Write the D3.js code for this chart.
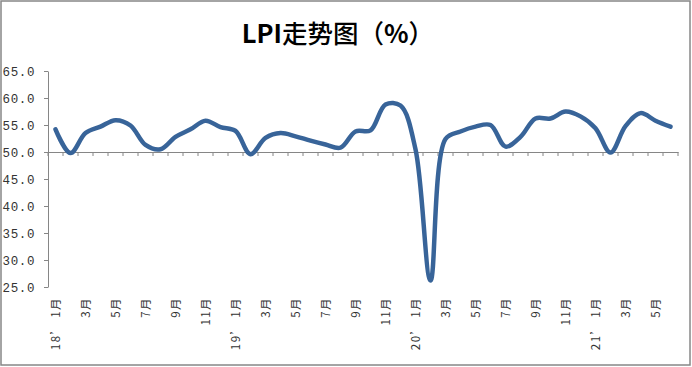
<!DOCTYPE html>
<html><head><meta charset="utf-8">
<script src="https://cdn.jsdelivr.net/npm/d3@7"></script>
<style>
html,body{margin:0;padding:0;background:#fff;}
svg{display:block;}
</style></head>
<body>
<svg id="chart" width="692" height="367"></svg>
<script>
const titleText = ["LPI", "走势图（", "%", "）"];
const years = ["18", "19", "20", "21"];
const monthsPerYear = [12, 12, 12, 6];
const values2018 = [54.2, 49.8, 53.5, 54.7, 55.9, 54.9, 51.3, 50.5, 52.8, 54.2, 55.8, 54.6];
const values2019 = [53.9, 49.6, 52.6, 53.5, 52.9, 52.1, 51.4, 50.8, 53.8, 54.0, 58.8, 58.6];
const values2020 = [50.5, 26.2, 52.4, 53.8, 54.7, 55.0, 51.0, 52.8, 56.2, 56.2, 57.5, 56.6];
const values2021 = [54.4, 49.9, 54.8, 57.2, 55.8, 54.7];
const yTicks = [25, 30, 35, 40, 45, 50, 55, 60, 65];

const seriesByYear = [values2018, values2019, values2020, values2021];
const data = [];
years.forEach((y, yi) => {
  for (let m = 1; m <= monthsPerYear[yi]; m++) {
    data.push({key: y + "-" + m, year: y, month: m, value: seriesByYear[yi][m - 1]});
  }
});
const labelFor = d => d.month % 2 === 1 ? (d.month === 1 ? d.year + "’ 1月" : d.month + "月") : "";

const svg = d3.select("#chart");
const W = 692, H = 367;

// outer frame
svg.append("rect").attr("x", 1).attr("y", 1).attr("width", W - 3).attr("height", H - 3)
  .attr("fill", "#fff").attr("stroke", "#878787").attr("stroke-width", 1.5);

// title
const t = svg.append("text").attr("x", 338).attr("y", 43).attr("text-anchor", "middle")
  .attr("font-family", "'Noto Sans CJK SC', 'Noto Sans', sans-serif").attr("font-size", 25.5).attr("fill", "#000");
t.append("tspan").attr("font-weight", "bold").text(titleText[0]);
t.append("tspan").attr("font-weight", 500).text(titleText[1]);
t.append("tspan").attr("font-weight", "bold").text(titleText[2]);
t.append("tspan").attr("font-weight", 500).text(titleText[3]);

const x = d3.scaleBand().domain(data.map(d => d.key)).range([48, 678]).paddingInner(0).paddingOuter(0);
const y = d3.scaleLinear().domain([25, 65]).range([287, 71]);

// y axis
const yAxis = d3.axisLeft(y).tickValues(yTicks).tickFormat(d3.format(".1f")).tickSizeInner(4).tickSizeOuter(0);
const gy = svg.append("g").attr("transform", "translate(48,0)").call(yAxis);
gy.select(".domain").attr("stroke", "#868686");
gy.selectAll(".tick line").attr("stroke", "#868686");
gy.selectAll(".tick text").attr("x", -13).attr("dy", "0.36em")
  .attr("font-family", "'Liberation Mono', monospace").attr("font-size", 12.5)
  .attr("letter-spacing", 0.6).attr("fill", "#333");

// x axis line at 50
const xAxis = d3.axisBottom(x).tickFormat("").tickSize(0).tickSizeOuter(0);
const gx = svg.append("g").attr("transform", `translate(0,${y(50)})`).call(xAxis);
gx.select(".domain").attr("stroke", "#868686");
gx.selectAll(".tick").remove();
// boundary tick marks
const bounds = data.map(d => x(d.key)).concat([x(data[data.length - 1].key) + x.bandwidth()]);
gx.selectAll("line.bt").data(bounds).enter().append("line").attr("class", "bt")
  .attr("x1", d => d).attr("x2", d => d).attr("y1", 0).attr("y2", 4)
  .attr("stroke", "#868686");

// x labels below plot
svg.append("g").selectAll("text").data(data.filter(d => labelFor(d))).enter().append("text")
  .attr("transform", d => `translate(${x(d.key) + x.bandwidth() / 2 + 4},297) rotate(-90)`)
  .attr("text-anchor", "end")
  .attr("font-family", "'Noto Sans CJK SC', sans-serif").attr("font-size", 11.5)
  .attr("letter-spacing", 1.4).attr("fill", "#333")
  .text(labelFor);

// line
const line = d3.line().x(d => x(d.key) + x.bandwidth() / 2).y(d => y(d.value))
  .curve(d3.curveCatmullRom.alpha(0.5));
svg.append("path").datum(data).attr("d", line).attr("fill", "none")
  .attr("stroke", "#386499").attr("stroke-width", 4.5).attr("stroke-linejoin", "round").attr("stroke-linecap", "round");
</script>
</body></html>
